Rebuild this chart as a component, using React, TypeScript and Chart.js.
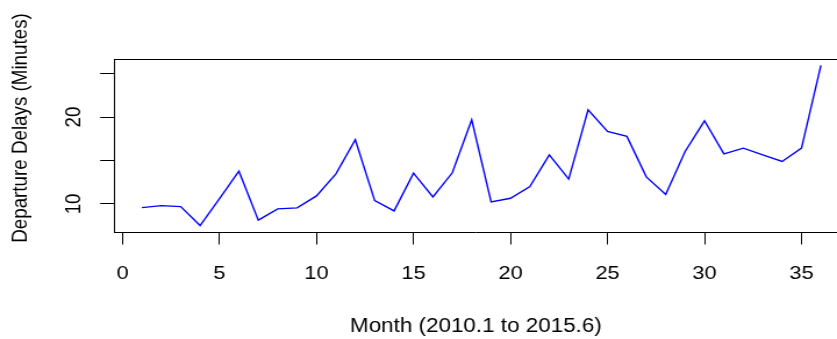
import React, { useEffect, useRef } from 'react';
import { Chart, registerables } from 'chart.js';

Chart.register(...registerables);

// ---- data ----
const months = [
  1, 2, 3, 4, 5, 6, 7, 8, 9, 10, 11, 12, 13, 14, 15, 16, 17, 18,
  19, 20, 21, 22, 23, 24, 25, 26, 27, 28, 29, 30, 31, 32, 33, 34, 35, 36,
];
const delays = [
  9.57, 9.8, 9.69, 7.5, 10.6, 13.77, 8.12, 9.42, 9.54, 10.92, 13.46, 17.38,
  10.38, 9.19, 13.54, 10.8, 13.58, 19.69, 10.23, 10.65, 12.0, 15.65, 12.85, 20.84,
  18.34, 17.77, 13.11, 11.08, 16.04, 19.57, 15.77, 16.42, 15.65, 14.88, 16.42, 25.95,
];
const xTicks = [0, 5, 10, 15, 20, 25, 30, 35];
const xTickLabels = ['0', '5', '10', '15', '20', '25', '30', '35'];
const yTicks = [10, 15, 20, 25];
const yTickLabels = ['10', '', '20', ''];
const xTitle = 'Month (2010.1 to 2015.6)';
const yTitle = 'Departure Delays (Minutes)';

// ---- layout (internal canvas is stretched horizontally to the window width) ----
const W = 720;
const H = 339;
const DISPLAY_W = 837;
const FONT_SIZE = 18.8;
const TITLE_SIZE = 19.3;
const FONT_FAMILY = '"Liberation Sans", Arial, Helvetica, sans-serif';

const framePlugin = {
  id: 'rFrame',
  afterDraw(chart: any) {
    const { ctx, chartArea: a } = chart;
    ctx.save();
    ctx.strokeStyle = '#000';
    ctx.lineWidth = 1;
    ctx.beginPath();
    ctx.moveTo(a.left, Math.round(a.top) + 0.5);
    ctx.lineTo(a.right + 2, Math.round(a.top) + 0.5);
    ctx.stroke();

    ctx.font = `${FONT_SIZE}px ${FONT_FAMILY}`;
    ctx.fillStyle = '#000';
    ctx.translate(18, 128);
    ctx.rotate(-Math.PI / 2);
    ctx.textAlign = 'center';
    ctx.textBaseline = 'middle';
    ctx.fillText(yTitle, 0, 0);
    ctx.restore();
  },
};

export default function App() {
  const ref = useRef<HTMLCanvasElement>(null);

  useEffect(() => {
    document.body.style.margin = '0';
    const canvas = ref.current!;
    const chart = new Chart(canvas, {
      type: 'line',
      data: {
        datasets: [
          {
            data: months.map((m, i) => ({ x: m, y: delays[i] })),
            borderColor: '#0000ff',
            borderWidth: 1.4,
            pointRadius: 0,
            pointHoverRadius: 0,
            tension: 0,
            fill: false,
          },
        ],
      },
      options: {
        animation: false,
        responsive: false,
        maintainAspectRatio: false,
        devicePixelRatio: 1,
        layout: { padding: { top: 59, left: 0, right: 0, bottom: 0 } },
        plugins: {
          legend: { display: false },
          tooltip: { enabled: false },
          title: { display: false },
        },
        font: { family: FONT_FAMILY, size: FONT_SIZE },
        scales: {
          x: {
            type: 'linear',
            min: -0.4,
            max: 36.83,
            afterBuildTicks: (s: any) => {
              s.ticks = xTicks.map((v) => ({ value: v }));
            },
            afterFit: (s: any) => {
              s.height = 107;
            },
            ticks: {
              autoSkip: false,
              maxRotation: 0,
              minRotation: 0,
              padding: 18.2,
              color: '#000',
              font: { family: FONT_FAMILY, size: FONT_SIZE },
              callback: (_v: any, i: number) => xTickLabels[i],
            },
            grid: {
              display: true,
              drawOnChartArea: false,
              drawTicks: true,
              tickLength: 12.5,
              color: '#000',
              lineWidth: 1,
            },
            border: { display: true, color: '#000', width: 1 },
            title: {
              display: true,
              text: xTitle,
              color: '#000',
              font: { family: FONT_FAMILY, size: TITLE_SIZE },
              padding: { top: 4, bottom: 1 },
            },
          },
          y: {
            type: 'linear',
            min: 6.76,
            max: 26.69,
            afterBuildTicks: (s: any) => {
              s.ticks = yTicks.map((v) => ({ value: v }));
            },
            afterFit: (s: any) => {
              s.width = 98.7;
            },
            ticks: {
              autoSkip: false,
              minRotation: 90,
              maxRotation: 90,
              crossAlign: 'center',
              padding: 12,
              color: '#000',
              font: { family: FONT_FAMILY, size: FONT_SIZE },
              callback: (_v: any, i: number) => yTickLabels[i],
            },
            grid: {
              display: true,
              drawOnChartArea: false,
              drawTicks: true,
              tickLength: 12.5,
              color: '#000',
              lineWidth: 1,
            },
            border: { display: true, color: '#000', width: 1 },
            title: { display: false },
          },
        },
      } as any,
      plugins: [framePlugin],
    });
    return () => chart.destroy();
  }, []);

  return (
    <div
      style={{
        position: 'absolute',
        left: 0,
        top: 0,
        width: DISPLAY_W,
        height: H,
        background: '#fff',
        overflow: 'hidden',
      }}
    >
      <canvas
        ref={ref}
        width={W}
        height={H}
        style={{ width: `${DISPLAY_W}px`, height: `${H}px`, display: 'block' }}
      />
    </div>
  );
}
